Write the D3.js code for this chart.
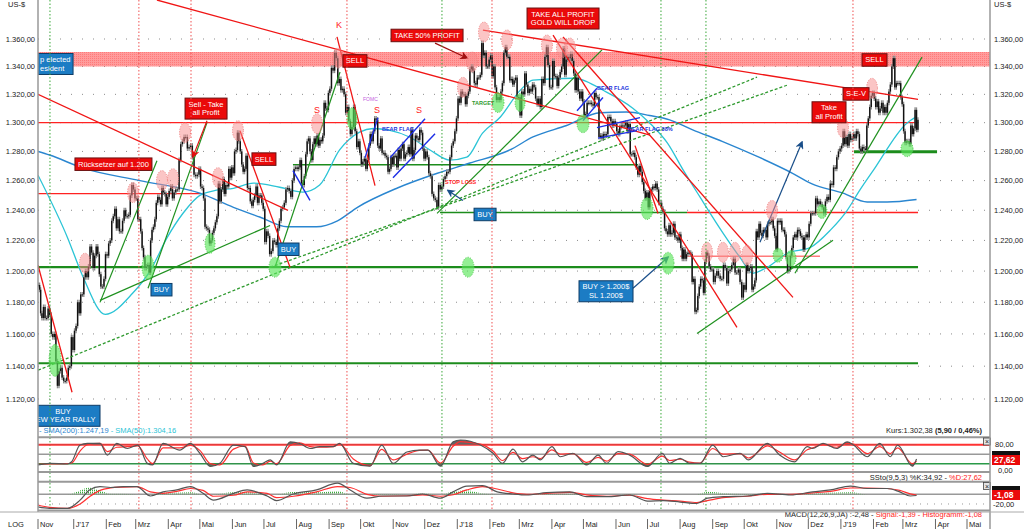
<!DOCTYPE html>
<html>
<head>
<meta charset="utf-8" />
<title>Gold US-$</title>
<style>
body { margin: 0; background: #fff; }
svg { display: block; font-family: 'Liberation Sans', Arial, sans-serif; }
.tick-label { font-size: 7.5px; fill: #222; }
</style>
</head>
<body>
<div id="chart"></div>
<script src="https://d3js.org/d3.v7.min.js"></script>
<script>
// ---- price data: daily closes per month (Nov 2016 from the 28th .. Mar 2019 to the 15th)
var closes2016 = [
  [1191, 1188, 1173],
  [1170, 1177, 1170, 1170, 1176, 1172, 1160, 1158, 1160, 1143, 1128, 1137, 1139, 1133, 1131, 1131, 1133, 1139, 1140, 1158, 1150]
];
var closes2017 = [
  [1162, 1165, 1180, 1173, 1185, 1185, 1196, 1200, 1196, 1203, 1216, 1212, 1202, 1210, 1216, 1211, 1198, 1190, 1190, 1195, 1211],
  [1210, 1218, 1220, 1233, 1236, 1241, 1228, 1234, 1226, 1226, 1233, 1240, 1236, 1236, 1237, 1250, 1257, 1254, 1248],
  [1248, 1234, 1234, 1226, 1215, 1209, 1202, 1203, 1204, 1199, 1220, 1227, 1229, 1234, 1245, 1249, 1247, 1244, 1255, 1252, 1251, 1244, 1249],
  [1253, 1256, 1248, 1252, 1254, 1254, 1274, 1285, 1287, 1290, 1290, 1282, 1283, 1284, 1276, 1264, 1263, 1264, 1268],
  [1256, 1255, 1248, 1229, 1228, 1227, 1218, 1220, 1225, 1228, 1232, 1236, 1258, 1246, 1254, 1261, 1251, 1257, 1256, 1268, 1262, 1269],
  [1265, 1280, 1281, 1293, 1287, 1280, 1271, 1266, 1268, 1277, 1255, 1255, 1246, 1243, 1247, 1250, 1256, 1245, 1250, 1250, 1245, 1241],
  [1219, 1226, 1223, 1211, 1213, 1220, 1219, 1217, 1228, 1233, 1241, 1242, 1245, 1254, 1255, 1253, 1249, 1260, 1268, 1269],
  [1268, 1269, 1274, 1258, 1257, 1263, 1278, 1287, 1289, 1280, 1274, 1285, 1289, 1285, 1291, 1284, 1288, 1287, 1291, 1314, 1310, 1309, 1321],
  [1324, 1339, 1337, 1350, 1346, 1328, 1331, 1323, 1324, 1320, 1307, 1311, 1301, 1292, 1297, 1311, 1294, 1283, 1287, 1279],
  [1271, 1273, 1275, 1268, 1274, 1284, 1292, 1287, 1294, 1303, 1302, 1284, 1282, 1289, 1279, 1279, 1277, 1276, 1266, 1268, 1276, 1271],
  [1277, 1277, 1269, 1281, 1275, 1282, 1285, 1275, 1278, 1279, 1283, 1278, 1295, 1275, 1281, 1291, 1289, 1288, 1295, 1293, 1282, 1275],
  [1280, 1276, 1265, 1263, 1251, 1248, 1247, 1242, 1257, 1254, 1256, 1261, 1263, 1266, 1266, 1276, 1284, 1287, 1294, 1303]
];
var closes2018 = [
  [1317, 1314, 1322, 1320, 1320, 1313, 1319, 1322, 1338, 1340, 1337, 1328, 1327, 1332, 1332, 1334, 1357, 1348, 1350, 1340, 1340, 1345],
  [1348, 1333, 1340, 1325, 1316, 1318, 1316, 1322, 1328, 1350, 1354, 1347, 1347, 1330, 1331, 1327, 1330, 1332, 1318, 1318],
  [1305, 1322, 1320, 1335, 1327, 1321, 1324, 1322, 1327, 1325, 1317, 1313, 1317, 1311, 1331, 1328, 1347, 1354, 1341, 1325, 1325],
  [1344, 1333, 1333, 1326, 1332, 1336, 1340, 1353, 1334, 1345, 1347, 1346, 1349, 1344, 1335, 1323, 1332, 1322, 1317, 1322, 1315],
  [1305, 1306, 1314, 1314, 1314, 1313, 1312, 1321, 1318, 1318, 1290, 1291, 1289, 1292, 1291, 1292, 1304, 1304, 1301, 1298, 1301, 1299],
  [1294, 1292, 1297, 1298, 1298, 1298, 1300, 1294, 1299, 1278, 1278, 1279, 1276, 1269, 1264, 1270, 1266, 1259, 1253, 1248, 1252],
  [1242, 1253, 1254, 1256, 1255, 1258, 1254, 1245, 1245, 1241, 1239, 1228, 1226, 1224, 1230, 1224, 1225, 1231, 1222, 1222, 1220, 1224],
  [1215, 1208, 1214, 1208, 1211, 1212, 1212, 1211, 1193, 1195, 1174, 1175, 1184, 1190, 1195, 1194, 1186, 1206, 1212, 1210, 1203, 1201, 1201],
  [1193, 1197, 1200, 1197, 1195, 1195, 1204, 1202, 1192, 1200, 1201, 1204, 1208, 1199, 1199, 1201, 1193, 1183, 1191],
  [1188, 1204, 1200, 1202, 1203, 1188, 1190, 1194, 1226, 1222, 1231, 1225, 1223, 1227, 1227, 1222, 1231, 1232, 1232, 1234, 1228, 1223, 1214],
  [1233, 1232, 1233, 1227, 1227, 1224, 1209, 1200, 1201, 1210, 1215, 1222, 1224, 1222, 1227, 1226, 1223, 1222, 1214, 1222, 1224, 1222],
  [1231, 1238, 1238, 1238, 1248, 1244, 1246, 1244, 1242, 1238, 1246, 1249, 1247, 1258, 1257, 1269, 1268, 1276, 1280, 1282]
];
var closes2019 = [
  [1284, 1294, 1285, 1290, 1284, 1292, 1288, 1289, 1292, 1289, 1294, 1292, 1282, 1280, 1283, 1282, 1281, 1298, 1303, 1311, 1319, 1321],
  [1317, 1311, 1315, 1307, 1310, 1314, 1307, 1311, 1307, 1314, 1322, 1327, 1340, 1346, 1325, 1328, 1328, 1328, 1318, 1313],
  [1294, 1286, 1287, 1287, 1285, 1298, 1292, 1296, 1309, 1295, 1302]
];

// moving averages (days after 28 Nov 2016, value)
var sma200Days = [0, 11, 43, 97, 154, 186, 211, 237, 265, 285, 304, 342, 380, 411, 449, 471, 503, 535, 560, 582, 601, 623, 651, 686, 718, 736, 766, 789, 808, 836];
var sma200 = [1280, 1277.5, 1268.5, 1260, 1251.5, 1242, 1235.5, 1229, 1229, 1233, 1242, 1255, 1265, 1272, 1281, 1290, 1298, 1307, 1307.5, 1305, 1302, 1295, 1287, 1276, 1265, 1258, 1251.5, 1245.5, 1245.5, 1247.2];
var sma50Days = [0, 28, 43, 64, 90, 107, 123, 138, 154, 170, 186, 205, 230, 252, 268, 287, 306, 319, 334, 354, 373, 392, 408, 423, 440, 459, 471, 509, 541, 566, 582, 599, 614, 630, 652, 668, 680, 694, 713, 735, 754, 770, 782, 795, 827, 836];
var sma50 = [1263.7, 1222, 1196, 1172.3, 1185.7, 1200.5, 1222, 1238, 1250, 1253.5, 1254.8, 1258.3, 1255.5, 1252.2, 1257, 1281, 1293.4, 1295.9, 1294.7, 1289.8, 1281, 1274, 1276, 1292.7, 1304, 1323, 1330.2, 1331.5, 1321.6, 1310.2, 1299.8, 1285.7, 1267.1, 1248.8, 1224.7, 1208.9, 1198.6, 1202.5, 1211.6, 1215.4, 1226.8, 1240, 1253.5, 1267.1, 1299.8, 1304.2];

// slow stochastic
var stochDays = [0, 11, 28, 32, 40, 47, 59, 66, 75, 85, 95, 104, 109, 119, 135, 145, 154, 164, 173, 186, 197, 205, 214, 221, 227, 240, 249, 259, 268, 281, 287, 300, 316, 327, 338, 351, 363, 371, 383, 395, 402, 421, 433, 442, 452, 461, 471, 478, 489, 497, 509, 522, 533, 541, 552, 563, 580, 594, 601, 611, 620, 630, 642, 652, 668, 676, 694, 706, 720, 732, 737, 747, 760, 770, 776, 789, 801, 811, 818, 832, 836];
var stochK = [16, 21, 19, 26, 79, 84, 84, 47, 84, 68, 79, 21, 16, 84, 63, 84, 53, 11, 21, 79, 74, 11, 21, 32, 16, 89, 84, 68, 74, 74, 84, 21, 12, 79, 21, 57, 63, 63, 12, 89, 95, 79, 53, 21, 66, 26, 47, 32, 74, 42, 53, 16, 47, 21, 58, 47, 11, 53, 21, 37, 21, 21, 79, 42, 53, 32, 84, 47, 26, 74, 68, 84, 68, 89, 79, 42, 84, 42, 79, 12, 34.9];
var stochD = [18, 19, 20, 22, 60, 80, 84, 58, 72, 74, 76, 35, 20, 70, 70, 78, 62, 20, 16, 66, 76, 22, 16, 28, 20, 78, 86, 74, 72, 74, 82, 35, 14, 65, 32, 50, 62, 63, 22, 75, 90, 82, 60, 30, 56, 36, 42, 36, 64, 50, 52, 24, 40, 28, 52, 50, 18, 44, 30, 34, 25, 22, 68, 50, 52, 38, 76, 56, 32, 64, 70, 80, 72, 84, 82, 52, 74, 52, 70, 20, 27.6];

// MACD
var macdDays = [0, 11, 28, 40, 49, 59, 69, 81, 94, 107, 119, 132, 145, 157, 167, 186, 199, 218, 227, 243, 265, 285, 297, 313, 328, 351, 366, 383, 395, 408, 423, 437, 452, 465, 484, 506, 522, 541, 563, 580, 595, 611, 627, 637, 652, 675, 694, 716, 737, 754, 773, 789, 808, 820, 830, 836];
var macdLine = [-26, -29, -29, -12, 9, 16, 14, 16, 16, -3.5, 5, 9, 16, 2, -12, 2, 9, -3.5, -13, 0.6, 9, 23, 9, -8, -3.5, -3.5, 0.6, -8, 5, 17, 18, 5, 0.6, -1.4, 3.3, 5, -5, -5, -1.4, -14, -13, -16, -19, -8, -5, -3.5, 2, -1.4, 5, 9, 17, 12, 12, 5, -3.5, -2.5];
var macdSignal = [-22, -27, -29, -20, -5, 8, 13, 15, 16, 5, 2, 6, 12, 8, -4, -2, 5, 2, -7, -4, 5, 16, 14, 0, -4, -3, -1, -4, -1, 9, 16, 11, 3, 0, 2, 4, -1, -4, -2, -9, -12, -14, -17, -13, -7, -4, 0, 0, 3, 6, 13, 13, 12, 8, 1, -1.4];

// axes
var priceTicks = [1120, 1140, 1160, 1180, 1200, 1220, 1240, 1260, 1280, 1300, 1320, 1340, 1360];
var monthLabels = ['Nov', "J'17", 'Feb', 'Mrz', 'Apr', 'Mai', 'Jun', 'Jul', 'Aug', 'Sep', 'Okt', 'Nov', 'Dez', "J'18", 'Feb', 'Mrz', 'Apr', 'Mai', 'Jun', 'Jul', 'Aug', 'Sep', 'Okt', 'Nov', 'Dez', "J'19", 'Feb', 'Mrz', 'Apr', 'Mai'];
var monthDates = ['2016-11-28', '2017-01-01', '2017-02-01', '2017-03-01', '2017-04-01', '2017-05-01', '2017-06-01', '2017-07-01', '2017-08-01', '2017-09-01', '2017-10-01', '2017-11-01', '2017-12-01', '2018-01-01', '2018-02-01', '2018-03-01', '2018-04-01', '2018-05-01', '2018-06-01', '2018-07-01', '2018-08-01', '2018-09-01', '2018-10-01', '2018-11-01', '2018-12-01', '2019-01-01', '2019-02-01', '2019-03-01', '2019-04-01', '2019-05-01'];
var redMarkerDays = [96, 145.6, 294, 432, 775.5];
var greenMarkerDays = [11.4, 384.4, 592.8, 635.6];

// ---- chart annotations (day offset, price)
var redTrends = [[113.2, 1388.9, 582.4, 1291.3], [423.4, 1366.6, 837.4, 1316.4], [0, 1320, 237.9, 1239.9], [284.5, 1361.5, 320.7, 1256.6], [192.2, 1294.4, 239.8, 1202.5], [0, 1203.8, 32.4, 1124.1], [490.1, 1362.9, 665.1, 1164.1], [499.6, 1361.5, 718.4, 1183.1], [568.1, 1284.0, 590, 1237.9]];
var redLevels = [[1300, 0, 837.4], [1251.2, 0, 154.2], [1238.5, 617.6, 837.4]];
var paleRedLevels = [[1209.6, 610.9, 744.1]];
var greenLevels = [[1202.5, 0, 837.4, 2.2], [1141.8, 0, 837.4, 2], [1238.5, 382.5, 617.6, 1.5], [1270.9, 242.6, 570.9, 1.5], [1279.8, 776.5, 855.5, 3]];
var greenTrends = [[59, 1179.9, 113.2, 1273.6], [59, 1181.2, 220.8, 1229.9], [104.7, 1188.9, 160.8, 1300], [225.5, 1202.5, 287.4, 1336], [379.7, 1237.9, 536.7, 1352], [627.1, 1160.3, 756.5, 1220.1], [720.3, 1198.6, 841.2, 1346.8]];
var greenDashed = [[0, 1137.5, 684.2, 1332.3], [220.8, 1202.5, 712.7, 1326.5]];
var blueTrends = [[311.2, 1275.7, 323.5, 1303.5], [335, 1275.7, 368.3, 1302.8], [337.8, 1262, 377.8, 1292.3], [242.6, 1266.8, 258.8, 1246.6], [512.9, 1308.4, 531.9, 1324.3], [518.6, 1301.4, 537.6, 1317.8], [531.9, 1296.5, 572.8, 1303.5], [532.9, 1289.2, 570, 1294.4]];
var navyArrows = [[566.2, 1188.9, 599.5, 1209.0], [687, 1218.8, 727, 1286.4], [404.4, 1246.6, 390.1, 1253.3]];
var redArrows = [[160.8, 1301.4, 147.5, 1276.4], [377.8, 1357, 408.2, 1346.1]];
var pinkSpots = [[44.7, 1205.1], [90.4, 1251.9], [118, 1260], [128.5, 1261.3], [139.9, 1293], [171.3, 1262], [190.3, 1294.4], [265.5, 1299.3], [285.5, 1346.1], [404.4, 1325], [413, 1343.2], [424.4, 1365.1], [446.3, 1359.3], [484.3, 1355.6], [498.6, 1353.4], [506.2, 1353.4], [636.6, 1212.2], [651.8, 1212.2], [663.2, 1212.2], [674.7, 1210.3], [698.5, 1239.9], [766, 1296.5], [793.6, 1324.3]];
var greenSpots = [[16.2, 1143.6, 6, 16], [104.7, 1202.5, 6, 12], [163.7, 1218.1, 5, 10], [225.5, 1202.5, 6, 10], [298.8, 1302.8, 5, 11], [437.7, 1314.2, 6, 10], [458.7, 1314.2, 5, 9], [518.6, 1299.3, 6, 9], [409.2, 1202.5, 6, 10], [579.5, 1241.2, 6, 11], [599.5, 1205.1, 6, 11], [704.2, 1210.3, 5, 7], [716.5, 1208.3, 5, 8], [746, 1239.2, 5, 7], [826.9, 1281.9, 6, 8]];
var redBoxes = [
  [159.9, 1309.9, ['Sell - Take', 'all Profit'], 42],
  [71.8, 1271.2, ['R\u00fccksetzer auf 1.200'], 77],
  [215, 1274.7, ['SELL'], 24],
  [301.6, 1344, ['SELL'], 24],
  [370.2, 1362.6, ['TAKE 50% PROFIT'], 72],
  [499.6, 1375.1, ['TAKE ALL PROFIT', 'GOLD WILL DROP'], 72],
  [752.7, 1307.3, ['Take', 'all Profit'], 34],
  [778.4, 1320.3, ['S-E-V'], 26],
  [796, 1344.7, ['SELL'], 25]
];
// the first box is cut by the left edge of the chart: only its visible text part is set
var blueBoxes = [
  [16.7, 1341.8, ['p elected', 'esident'], 35, 'start'],
  [23.8, 1109.9, ['BUY', 'NEW YEAR RALLY'], 74, 'middle'],
  [117.5, 1188, ['BUY'], 21, 'middle'],
  [238.4, 1214.2, ['BUY'], 21, 'middle'],
  [425.4, 1237.2, ['BUY'], 22, 'middle'],
  [540.5, 1187, ['BUY > 1.200$', 'SL 1.200$'], 54, 'middle']
];
var chartNotes = [
  [286.4, 1370.3, 'K', '#f22', 9, 'middle', 'normal'],
  [265.5, 1309.2, 'S', '#f22', 9, 'middle', 'normal'],
  [322.6, 1309.2, 'S', '#f22', 9, 'middle', 'normal'],
  [362.5, 1309.2, 'S', '#f22', 9, 'middle', 'normal'],
  [309.3, 1316.4, 'FOMC', '#c35ee0', 5, 'start', 'normal'],
  [327.3, 1295.8, 'BEAR FLAG', '#2233dd', 5.5, 'start', 'bold'],
  [413, 1313.5, 'TARGET', '#2f9a2f', 5.5, 'start', 'bold'],
  [387.3, 1259.3, 'STOP LOSS', '#f22', 5.5, 'start', 'bold'],
  [531.9, 1324.3, 'BEAR FLAG', '#2233dd', 5.5, 'start', 'bold'],
  [561.4, 1295.8, 'BEAR FLAG 38%', '#2233dd', 5.5, 'start', 'bold']
];

(function(d3) {
  'use strict';

  var W = 1024, H = 529;
  var left = 38, right = 990, mainBottom = 436;
  var parse = d3.timeParse('%Y-%m-%d');
  var startDate = new Date(2016, 10, 28);
  var endDate = new Date(2019, 2, 16);
  function dayDate(n) { return new Date(startDate.getTime() + n * 864e5); }

  var de = d3.formatLocale({ decimal: ',', thousands: '.', grouping: [3], currency: ['', '$'] });
  var fmt = de.format(',.2f');

  var x = d3.scaleTime().domain([startDate, new Date(2019, 4, 1)]).range([left, 967]);
  var y = d3.scaleLog().domain([1120, 1360]).range([399, 39]);
  var yS = d3.scaleLinear().domain([0, 100]).range([470, 438.4]);
  var yM = d3.scaleLinear().domain([-32, 26]).range([509.8, 481.7]);
  function dx(d) { return x(dayDate(d)); }

  var svg = d3.select('#chart').append('svg').attr('width', W).attr('height', H);
  var defs = svg.append('defs');
  defs.append('clipPath').attr('id', 'clipMain').append('rect')
    .attr('x', left).attr('y', 0).attr('width', right - left).attr('height', mainBottom);
  defs.append('clipPath').attr('id', 'clipHi').append('rect')
    .attr('x', left).attr('y', 430).attr('width', right - left).attr('height', yS(80) - 430);
  defs.append('clipPath').attr('id', 'clipLo').append('rect')
    .attr('x', left).attr('y', yS(20)).attr('width', right - left).attr('height', 480 - yS(20));
  var pat = defs.append('pattern').attr('id', 'hist').attr('width', 2).attr('height', 2)
    .attr('patternUnits', 'userSpaceOnUse');
  pat.append('rect').attr('width', 1).attr('height', 1.4).attr('fill', '#3daa3d');
  var band = defs.append('pattern').attr('id', 'band').attr('width', 2).attr('height', 2)
    .attr('patternUnits', 'userSpaceOnUse');
  band.append('rect').attr('width', 2).attr('height', 2).attr('fill', '#ff8a8a');
  band.append('rect').attr('width', 1).attr('height', 1).attr('fill', '#ff6262');
  ['#1a4f8a', '#e01010', '#a01010'].forEach(function(c, i) {
    defs.append('marker').attr('id', 'arr' + i).attr('viewBox', '0 0 10 10')
      .attr('refX', 8).attr('refY', 5).attr('markerWidth', 7).attr('markerHeight', 7)
      .attr('orient', 'auto-start-reverse')
      .append('path').attr('d', 'M0,0 L10,5 L0,10 L3,5 z').attr('fill', c);
  });

  // ---- candles
  var months = closes2016.concat(closes2017, closes2018, closes2019);
  var candles = [];
  months.forEach(function(vals, m) {
    var s = m === 0 ? startDate : new Date(2016, 10 + m, 1);
    var e = m === months.length - 1 ? endDate : new Date(2016, 11 + m, 1);
    vals.forEach(function(v, i) {
      candles.push({ date: new Date(s.getTime() + (i + 0.5) * (e - s) / vals.length), close: v });
    });
  });
  candles.forEach(function(c, i) { c.open = i ? candles[i - 1].close : c.close; });

  // ---- static frame and grid
  var main = svg.append('g');
  main.selectAll('.grid').data(priceTicks).enter().append('line')
    .attr('x1', left).attr('x2', right).attr('y1', function(d) { return y(d); }).attr('y2', function(d) { return y(d); })
    .attr('stroke', '#8c8c8c').attr('stroke-dasharray', '1,10');

  var plot = svg.append('g').attr('clip-path', 'url(#clipMain)');
  plot.append('rect').attr('x', left).attr('width', right - left)
    .attr('y', y(1350.5)).attr('height', y(1340) - y(1350.5)).attr('fill', 'url(#band)').attr('opacity', 0.85);

  // vertical event markers across all panels
  svg.selectAll('.vr').data(redMarkerDays).enter().append('line')
    .attr('x1', dx).attr('x2', dx).attr('y1', 0).attr('y2', 511)
    .attr('stroke', '#f05050').attr('stroke-dasharray', '1.5,2');
  svg.selectAll('.vg').data(greenMarkerDays).enter().append('line')
    .attr('x1', dx).attr('x2', dx).attr('y1', 0).attr('y2', 511)
    .attr('stroke', '#3aa83a').attr('stroke-dasharray', '1.5,2');

  function hline(g, p, d1, d2, color, w) {
    g.append('line').attr('x1', dx(d1)).attr('x2', dx(d2)).attr('y1', y(p)).attr('y2', y(p))
      .attr('stroke', color).attr('stroke-width', w);
  }
  function seg(g, s, color, w, dash) {
    return g.append('line').attr('x1', dx(s[0])).attr('y1', y(s[1])).attr('x2', dx(s[2])).attr('y2', y(s[3]))
      .attr('stroke', color).attr('stroke-width', w).attr('stroke-dasharray', dash || null);
  }

  redLevels.forEach(function(l) { hline(plot, l[0], l[1], l[2], '#f22', 1.4); });
  paleRedLevels.forEach(function(l) { hline(plot, l[0], l[1], l[2], '#ff7a7a', 1.6); });
  greenLevels.forEach(function(l) { hline(plot, l[0], l[1], l[2], '#1c8c1c', l[3]); });

  // moving averages
  function maLine(days, vals) {
    return d3.line().curve(d3.curveMonotoneX)
      .x(function(d, i) { return dx(days[i]); }).y(function(d) { return y(d); })(vals);
  }
  plot.append('path').attr('d', maLine(sma200Days, sma200)).attr('fill', 'none')
    .attr('stroke', '#2a86d0').attr('stroke-width', 1.4);
  plot.append('path').attr('d', maLine(sma50Days, sma50)).attr('fill', 'none')
    .attr('stroke', '#2bc4d6').attr('stroke-width', 1.3);

  // candles
  plot.selectAll('.wick').data(candles).enter().append('line')
    .attr('x1', function(d) { return x(d.date); }).attr('x2', function(d) { return x(d.date); })
    .attr('y1', function(d) { return y(Math.max(d.open, d.close)) - 2.5; })
    .attr('y2', function(d) { return y(Math.min(d.open, d.close)) + 2.5; })
    .attr('stroke', '#8a8a8a').attr('stroke-width', 1.3);
  plot.selectAll('.body').data(candles).enter().append('rect')
    .attr('x', function(d) { return x(d.date) - 0.7; }).attr('width', 1.4)
    .attr('y', function(d) { return y(Math.max(d.open, d.close)); })
    .attr('height', function(d) { return Math.max(1, Math.abs(y(d.open) - y(d.close))); })
    .attr('fill', '#111');

  // trend lines
  greenDashed.forEach(function(s) { seg(plot, s, '#2e9a2e', 1.3, '3,2'); });
  greenTrends.forEach(function(s) { seg(plot, s, '#1f911f', 1.2); });
  redTrends.forEach(function(s) { seg(plot, s, '#f01515', 1.3); });
  blueTrends.forEach(function(s) { seg(plot, s, '#1c2ee6', 1.4); });
  navyArrows.forEach(function(s) { seg(plot, s, '#1a4f8a', 1.2).attr('marker-end', 'url(#arr0)'); });
  seg(plot, redArrows[0], '#e01010', 1.2).attr('marker-end', 'url(#arr1)');
  seg(plot, redArrows[1], '#a01010', 1.2).attr('marker-end', 'url(#arr2)');

  // highlighted spots
  plot.selectAll('.pink').data(pinkSpots).enter().append('ellipse')
    .attr('cx', function(d) { return dx(d[0]); }).attr('cy', function(d) { return y(d[1]); })
    .attr('rx', 5.5).attr('ry', 10)
    .attr('fill', 'rgba(248,140,140,0.5)').attr('stroke', '#f08080').attr('stroke-dasharray', '1,1.5');
  plot.selectAll('.lime').data(greenSpots).enter().append('ellipse')
    .attr('cx', function(d) { return dx(d[0]); }).attr('cy', function(d) { return y(d[1]); })
    .attr('rx', function(d) { return d[2]; }).attr('ry', function(d) { return d[3]; })
    .attr('fill', 'rgba(90,230,90,0.65)').attr('stroke', '#49c849').attr('stroke-dasharray', '1,1.5');

  // text boxes
  function box(b, fill, stroke) {
    var cx = dx(b[0]), cy = y(b[1]), lines = b[2], lh = 8.5;
    var h = lines.length * lh + 4;
    var anchor = b[4] || 'middle';
    var tx = anchor === 'start' ? cx - b[3] / 2 + 2 : cx;
    var g = plot.append('g');
    g.append('rect').attr('x', cx - b[3] / 2).attr('y', cy - h / 2).attr('width', b[3]).attr('height', h)
      .attr('fill', fill).attr('stroke', stroke).attr('stroke-width', 1);
    var t = g.append('text').attr('text-anchor', anchor).attr('fill', '#fff').style('font-size', '7.5px');
    lines.forEach(function(s, i) {
      t.append('tspan').attr('x', tx).attr('y', cy - h / 2 + 2 + lh * (i + 1) - 1.8).text(s);
    });
  }
  redBoxes.forEach(function(b) { box(b, '#ea0a0a', '#6a1010'); });
  blueBoxes.forEach(function(b) { box(b, '#1c7cc4', '#0e3c66'); });

  chartNotes.forEach(function(n) {
    plot.append('text').attr('x', dx(n[0])).attr('y', y(n[1]) + n[4] * 0.35)
      .attr('fill', n[3]).attr('text-anchor', n[5]).style('font-size', n[4] + 'px')
      .style('font-weight', n[6]).text(n[2]);
  });

  // legend lines in main panel
  var leg = svg.append('text').attr('x', 39).attr('y', 433).style('font-size', '7.5px');
  leg.append('tspan').attr('fill', '#2a86d0').text('- SMA(200):1.247,19');
  leg.append('tspan').attr('fill', '#2bc4d6').text(' - SMA(50):1.304,16');
  var kurs = svg.append('text').attr('x', 982).attr('y', 433).attr('text-anchor', 'end')
    .style('font-size', '7.5px').attr('fill', '#222');
  kurs.append('tspan').text('Kurs:1.302,38 ');
  kurs.append('tspan').style('font-weight', 'bold').text('(5,90 / 0,46%)');

  // ---- price axes
  [[left - 3, 'end'], [right + 4, 'start']].forEach(function(a) {
    svg.selectAll(null).data(priceTicks).enter().append('text')
      .attr('class', 'tick-label').attr('x', a[0]).attr('y', function(d) { return y(d) + 2.6; })
      .attr('text-anchor', a[1]).text(function(d) { return fmt(d); });
  });
  svg.append('text').attr('class', 'tick-label').attr('x', 8).attr('y', 7).text('US-$');
  svg.append('text').attr('class', 'tick-label').attr('x', 994).attr('y', 7).text('US-$');

  // ---- stochastic panel
  var sto = svg.append('g');
  [[437.3, '#999', 2], [yS(80), '#f33', 2], [yS(50), '#999', 1.5], [yS(20), '#2a9a48', 1.5], [472, '#999', 2]].forEach(function(l) {
    sto.append('line').attr('x1', left).attr('x2', right).attr('y1', l[0]).attr('y2', l[0])
      .attr('stroke', l[1]).attr('stroke-width', l[2]);
  });
  function stoLine(vals) {
    return d3.line().curve(d3.curveMonotoneX)
      .x(function(d, i) { return dx(stochDays[i]); }).y(function(d) { return yS(d); })(vals);
  }
  function stoArea(level) {
    return d3.area().curve(d3.curveMonotoneX)
      .x(function(d, i) { return dx(stochDays[i]); }).y0(yS(level)).y1(function(d) { return yS(d); })(stochK);
  }
  sto.append('path').attr('d', stoArea(80)).attr('fill', '#666').attr('clip-path', 'url(#clipHi)');
  sto.append('path').attr('d', stoArea(20)).attr('fill', '#5a6e5a').attr('clip-path', 'url(#clipLo)');
  sto.append('path').attr('d', stoLine(stochD)).attr('fill', 'none').attr('stroke', '#ff3030').attr('stroke-width', 1.2);
  sto.append('path').attr('d', stoLine(stochK)).attr('fill', 'none').attr('stroke', '#555').attr('stroke-width', 1.2);
  var stoTxt = svg.append('text').attr('x', 982).attr('y', 479.5).attr('text-anchor', 'end').style('font-size', '7.5px');
  stoTxt.append('tspan').attr('fill', '#222').text('SSto(9,5,3) %K:34,92 - ');
  stoTxt.append('tspan').attr('fill', '#f22').text('%D:27,62');

  // ---- MACD panel
  var mac = svg.append('g');
  [[481.7, '#999', 2, null], [yM(0), '#999', 1.5, null], [yM(-20), '#999', 1, '1,6'], [510.5, '#999', 2, null]].forEach(function(l) {
    mac.append('line').attr('x1', left).attr('x2', right).attr('y1', l[0]).attr('y2', l[0])
      .attr('stroke', l[1]).attr('stroke-width', l[2]).attr('stroke-dasharray', l[3]);
  });
  var hist = macdLine.map(function(v, i) { return v - macdSignal[i]; });
  mac.append('path').attr('fill', 'url(#hist)')
    .attr('d', d3.area().curve(d3.curveMonotoneX)
      .x(function(d, i) { return dx(macdDays[i]); }).y0(yM(0)).y1(function(d) { return yM(Math.max(0, d)); })(hist));
  function macLine(vals) {
    return d3.line().curve(d3.curveMonotoneX)
      .x(function(d, i) { return dx(macdDays[i]); }).y(function(d) { return yM(d); })(vals);
  }
  mac.append('path').attr('d', macLine(macdSignal)).attr('fill', 'none').attr('stroke', '#ff3030').attr('stroke-width', 1.2);
  mac.append('path').attr('d', macLine(macdLine)).attr('fill', 'none').attr('stroke', '#555').attr('stroke-width', 1.2);
  var macTxt = svg.append('text').attr('x', 982).attr('y', 517).attr('text-anchor', 'end').style('font-size', '7.5px');
  macTxt.append('tspan').attr('fill', '#222').text('MACD(12,26,9,JA) :-2,48 - ');
  macTxt.append('tspan').attr('fill', '#f22').text('Signal:-1,39 - Histogramm:-1,08');

  // right side panel scales and value boxes (last %K / MACD box sits behind the red one)
  [[yS(80) + 2.6, '80,00', 995], [472.5, '0,00', 998], [yM(-20) + 2.6, '-20,00', 993]].forEach(function(t) {
    svg.append('text').attr('class', 'tick-label').attr('x', t[2]).attr('y', t[0]).text(t[1]);
  });
  [[451, 6, '#111'], [486, 6, '#111']].forEach(function(v) {
    svg.append('rect').attr('x', 992).attr('y', v[0]).attr('width', 28).attr('height', v[1]).attr('fill', v[2]);
  });
  [[455, '27,62'], [490, '-1,08']].forEach(function(v) {
    svg.append('rect').attr('x', 992).attr('y', v[0]).attr('width', 28).attr('height', 10).attr('fill', '#ea0a0a');
    svg.append('text').attr('x', 994).attr('y', v[0] + 8).attr('fill', '#fff')
      .style('font-size', '8.5px').style('font-weight', 'bold').text(v[1]);
  });
  [438, 482.5].forEach(function(t) {
    svg.append('rect').attr('x', 983.5).attr('y', t).attr('width', 7).attr('height', 7)
      .attr('fill', '#e4e4e4').attr('stroke', '#444').attr('stroke-width', 0.8);
    svg.append('text').attr('x', 987).attr('y', t + 6).attr('text-anchor', 'middle')
      .style('font-size', '7px').attr('fill', '#222').text('\u00d7');
  });

  // ---- frame and time axis
  svg.append('line').attr('x1', left).attr('x2', left).attr('y1', 0).attr('y2', 512).attr('stroke', '#999').attr('stroke-width', 1.5);
  svg.append('line').attr('x1', right).attr('x2', right).attr('y1', 0).attr('y2', 529).attr('stroke', '#999').attr('stroke-width', 1.5);
  svg.append('line').attr('x1', 0).attr('x2', W).attr('y1', 512).attr('y2', 512).attr('stroke', '#aaa').attr('stroke-width', 1);
  var ax = svg.append('g');
  monthDates.forEach(function(s, i) {
    var px = x(parse(s));
    ax.append('line').attr('x1', px).attr('x2', px).attr('y1', 519).attr('y2', 529).attr('stroke', '#666');
    ax.append('text').attr('class', 'tick-label').attr('x', px + 2).attr('y', 527).text(monthLabels[i]);
  });
  svg.append('text').attr('class', 'tick-label').attr('x', 8).attr('y', 527).text('LOG');

})(window.d3);
</script>
</body>
</html>
